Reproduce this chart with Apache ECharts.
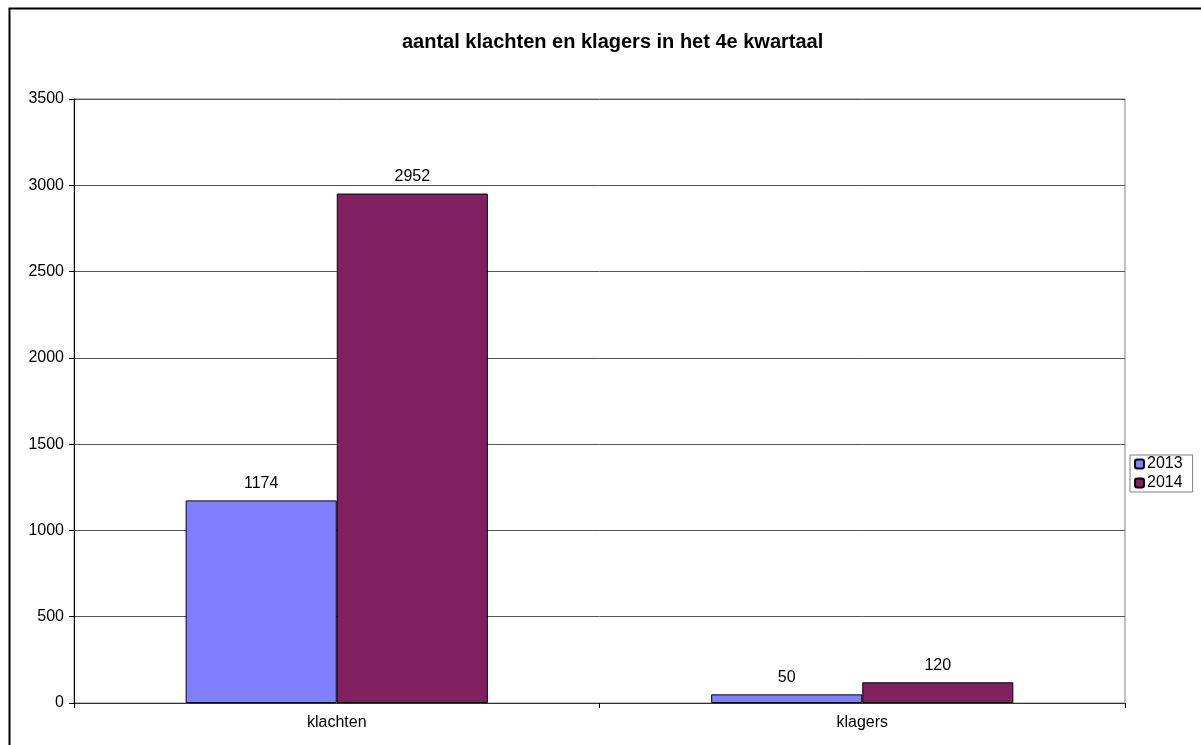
<!DOCTYPE html>
<html>
<head>
<meta charset="utf-8">
<script src="https://cdn.jsdelivr.net/npm/echarts@6/dist/echarts.min.js"></script>
<style>
  html, body { margin: 0; padding: 0; background: #fff; }
  #chart { width: 1201px; height: 745px; }
</style>
</head>
<body>
<div id="chart"></div>
<script>
// data
var categories = ['klachten', 'klagers'];
var years = ['2013', '2014'];
var values2013 = [1174, 50];
var values2014 = [2952, 120];

var chart = echarts.init(document.getElementById('chart'));

var option = {
    backgroundColor: '#ffffff',
    animation: false,
    textStyle: { fontFamily: 'Liberation Sans, Arial, sans-serif' },
    title: {
        text: 'aantal klachten en klagers in het 4e kwartaal',
        left: 397,
        top: 27,
        textStyle: { fontSize: 20, fontWeight: 'bold', color: '#000' }
    },
    // outer chart frame (right and bottom run past the picture)
    graphic: [{
        type: 'rect',
        shape: { x: 9.5, y: 8.5, width: 1300, height: 800 },
        style: { fill: 'none', stroke: '#000', lineWidth: 2 },
        silent: true
    }],
    legend: {
        data: years,
        orient: 'vertical',
        left: 1130,
        top: 455,
        itemWidth: 9,
        itemHeight: 9,
        itemGap: 3,
        padding: [1, 10, 1, 4],
        borderColor: '#808080',
        borderWidth: 1,
        textStyle: { fontSize: 16, color: '#000', padding: [0, 0, 0, -2] }
    },
    grid: {
        left: 74,
        right: 76,
        top: 99,
        bottom: 42,
        show: true,
        borderColor: '#808080',
        borderWidth: 1
    },
    xAxis: {
        type: 'category',
        data: categories,
        axisLine: { lineStyle: { color: '#333' } },
        axisTick: { show: true, length: 5, lineStyle: { color: '#000' } },
        axisLabel: { color: '#000', fontSize: 16, margin: 12 }
    },
    yAxis: {
        type: 'value',
        min: 0,
        max: 3500,
        interval: 500,
        axisLine: { show: true, lineStyle: { color: '#000' } },
        axisTick: { show: true, length: 5, lineStyle: { color: '#000' } },
        axisLabel: {
            color: '#000',
            fontSize: 16,
            margin: 10,
            formatter: function (v) { return String(v); }
        },
        splitLine: { lineStyle: { color: '#555', width: 1 } }
    },
    series: [
        {
            name: '2013',
            type: 'bar',
            data: values2013,
            barGap: '0%',
            barCategoryGap: '42.5%',
            itemStyle: { color: '#8080ff', borderColor: '#000', borderWidth: 1 },
            label: { show: true, position: 'top', distance: 9, color: '#000', fontSize: 16 }
        },
        {
            name: '2014',
            type: 'bar',
            data: values2014,
            barGap: '0%',
            barCategoryGap: '42.5%',
            itemStyle: { color: '#802060', borderColor: '#000', borderWidth: 1 },
            label: { show: true, position: 'top', distance: 9, color: '#000', fontSize: 16 }
        }
    ]
};

chart.setOption(option);
</script>
</body>
</html>
